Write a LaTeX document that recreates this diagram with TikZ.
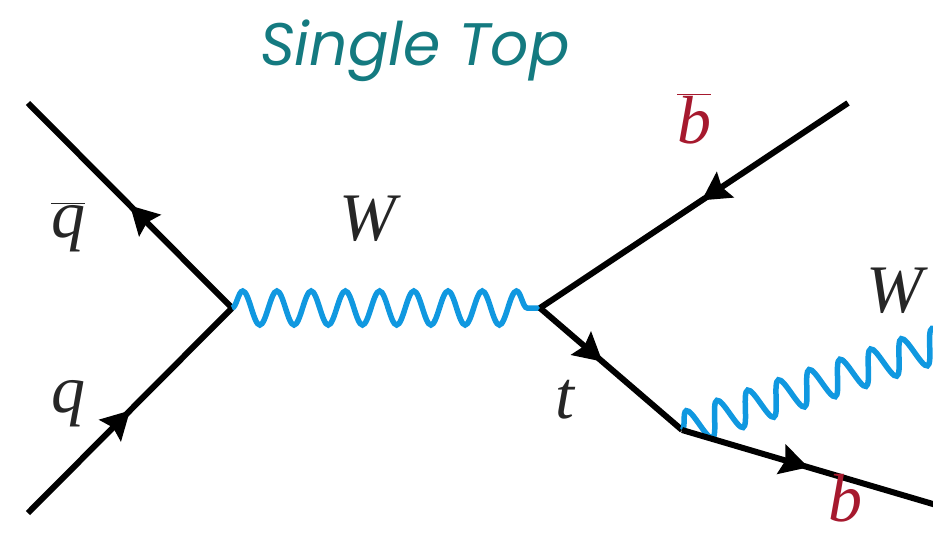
\documentclass[tikz,border=0pt]{standalone}
\usepackage{fontspec}
\setmainfont{Liberation Serif}
\newfontfamily\ttlfont{Poppins}
\usetikzlibrary{arrows.meta,decorations.pathmorphing,decorations.markings}
\definecolor{wblue}{RGB}{16,152,224}
\definecolor{ttlteal}{RGB}{20,122,128}
\definecolor{bred}{RGB}{166,25,46}
\newcommand{\lab}[1]{\itshape #1}
\newcommand{\barlab}[1]{$\overline{\mbox{\itshape #1}}$}
\tikzset{
  fer/.style={line width=6pt,postaction={decorate},
    decoration={markings,mark=at position #1 with {\arrow{Stealth[length=28pt,width=30pt,inset=4pt]}}}},
  fer/.default=0.5,
  bos/.style={wblue,line width=5.5pt,decorate,
    decoration={snake,segment length=#1,amplitude=17pt}},
  lbl/.style={font=\fontsize{68}{68}\selectfont,text=black!85,anchor=base,inner sep=0pt},
  ttl/.style={font=\fontsize{60}{60}\selectfont\ttlfont\itshape,text=ttlteal,anchor=base,inner sep=0pt},
}
\begin{document}
\begin{tikzpicture}[x=1pt,y=-1pt]
 \useasboundingbox (0,0) rectangle (933,535);
 % vertices and outer ends
 \coordinate (v1) at (232,308);
 \coordinate (v2) at (540,308);
 \coordinate (v3) at (682,430);
 \coordinate (qb) at (28,103);
 \coordinate (q) at (28,513);
 \coordinate (bb) at (848,103);
 \coordinate (b) at (960,512);
 \coordinate (w) at (960,337);
 % lines
 \draw[fer] (v1) -- (qb);
 \draw[fer] (q) -- (v1);
 \draw[bos=34.22pt] (v1) -- (v2);
 \draw[fer=0.475] (bb) -- (v2);
 \draw[fer=0.44] (v2) -- (v3);
 \draw[bos=32.4pt] (v3) -- (w);
 \draw[fer=0.455] (v3) -- (b);
 % labels
 \node[ttl] (title) at (415,65) {Single Top};
 \node[lbl] (lqb) at (68,237) {\barlab{q}};
 \node[lbl] (lq) at (68,412) {\lab{q}};
 \node[lbl] (lw1) at (368,240) {\lab{W}};
 \node[lbl] (lt) at (565,418) {\lab{t}};
 \node[lbl,text=bred] (lbb) at (694,143) {\barlab{b}};
 \node[lbl] (lw2) at (895,312) {\lab{W}};
 \node[lbl,text=bred] (lb) at (845,521) {\lab{b}};
\end{tikzpicture}
\end{document}
